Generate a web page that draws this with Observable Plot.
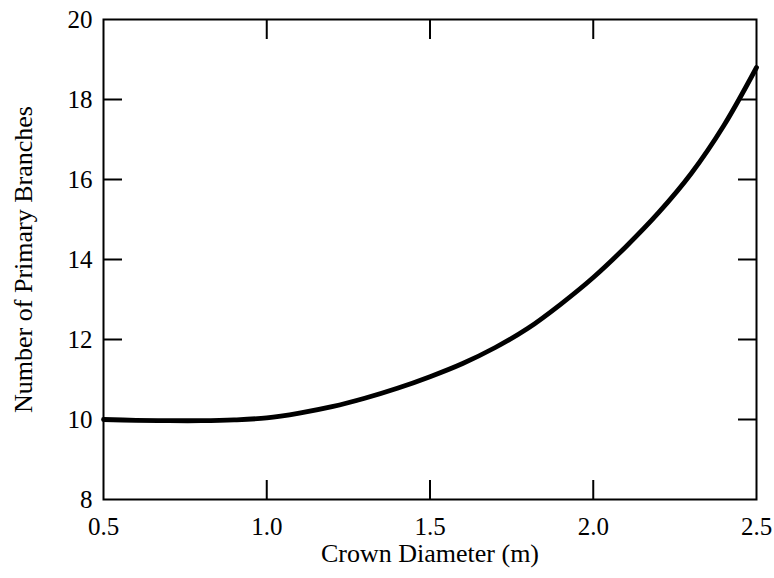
<!DOCTYPE html>
<html>
<head>
<meta charset="utf-8">
<script src="https://cdn.jsdelivr.net/npm/d3@7"></script>
<script src="https://cdn.jsdelivr.net/npm/@observablehq/plot@0.6"></script>
<style>
  html, body { margin: 0; padding: 0; background: #fff; }
  #chart svg { display: block; }
</style>
</head>
<body>
<div id="chart"></div>
<script>
// Crown diameter (m) and the fitted number of primary branches
const crownDiameter = [0.5, 0.6, 0.7, 0.8, 0.9, 1.0, 1.1, 1.2, 1.3, 1.4, 1.5,
                       1.6, 1.7, 1.8, 1.9, 2.0, 2.1, 2.2, 2.3, 2.4, 2.5];
const primaryBranches = [10.00, 9.98, 9.97, 9.97, 9.99, 10.04, 10.16, 10.32, 10.53, 10.78, 11.07,
                         11.40, 11.80, 12.28, 12.88, 13.55, 14.32, 15.17, 16.15, 17.35, 18.80];

const xTicks = [0.5, 1.0, 1.5, 2.0, 2.5];
const yTicks = [8, 10, 12, 14, 16, 18, 20];
const xInnerTicks = [1.0, 1.5, 2.0];
const yInnerTicks = [10, 12, 14, 16, 18];

const xLabel = "Crown Diameter (m)";
const yLabel = "Number of Primary Branches";

const rows = crownDiameter.map((d, i) => ({d, n: primaryBranches[i]}));

const W = 774, H = 578;
const M = {top: 19, right: 18, bottom: 79, left: 103};
const tick = 19;
const font = "Liberation Serif, Times New Roman, serif";

const chart = Plot.plot({
  width: W,
  height: H,
  marginTop: M.top,
  marginRight: M.right,
  marginBottom: M.bottom,
  marginLeft: M.left,
  style: {fontFamily: font, fontSize: "25px", color: "#000", background: "#fff"},
  x: {domain: [0.5, 2.5]},
  y: {domain: [8, 20]},
  marks: [
    // inward tick marks on all four sides
    Plot.axisX(xInnerTicks, {anchor: "bottom", tickSize: -tick, strokeWidth: 2, tickFormat: () => "", label: null}),
    Plot.axisX(xInnerTicks, {anchor: "top", tickSize: -tick, strokeWidth: 2, tickFormat: () => "", label: null}),
    Plot.axisY(yInnerTicks, {anchor: "left", tickSize: -tick, strokeWidth: 2, tickFormat: () => "", label: null}),
    Plot.axisY(yInnerTicks, {anchor: "right", tickSize: -tick, strokeWidth: 2, tickFormat: () => "", label: null}),
    // tick labels
    Plot.axisX(xTicks, {anchor: "bottom", tickSize: 0, tickPadding: 18, tickFormat: d3.format(".1f"), label: null, fontSize: 25}),
    Plot.axisY(yTicks, {anchor: "left", tickSize: 0, tickPadding: 11, tickFormat: d3.format("d"), label: null, fontSize: 25}),
    // axis titles
    Plot.text([xLabel], {frameAnchor: "bottom", dy: 54, lineAnchor: "middle", textAnchor: "middle", fontSize: 26, fill: "#000"}),
    Plot.text([yLabel], {frameAnchor: "left", dx: -80, rotate: -90, lineAnchor: "middle", textAnchor: "middle", fontSize: 26, fill: "#000"}),
    Plot.frame({stroke: "#000", strokeWidth: 2}),
    Plot.line(rows, {x: "d", y: "n", curve: "catmull-rom", stroke: "#000", strokeWidth: 4.8})
  ]
});

document.getElementById("chart").append(chart);
</script>
</body>
</html>
